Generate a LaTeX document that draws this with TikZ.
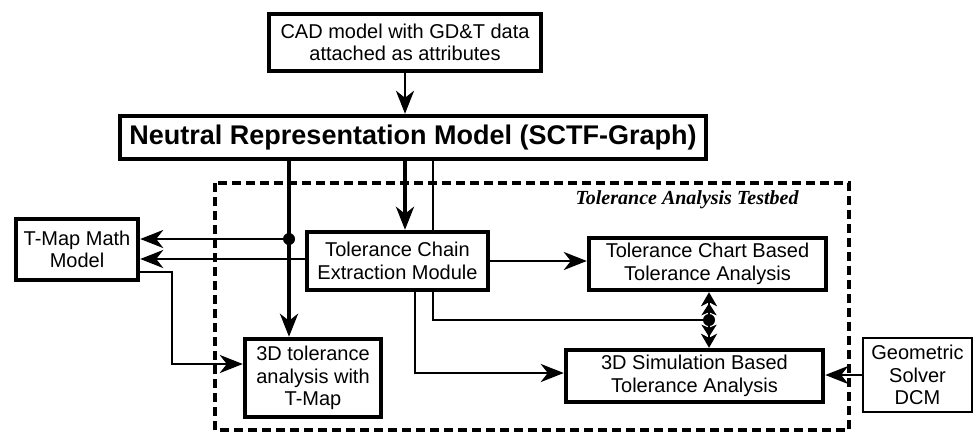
\documentclass[tikz,border=0pt]{standalone}
\usepackage{fontspec}
\setmainfont{Liberation Sans}
\newfontfamily\labelserif{Liberation Serif}
\usetikzlibrary{arrows.meta,backgrounds}

\tikzset{
  tip/.tip={Stealth[length=23pt,width=18pt,inset=7pt]},
  twin/.tip={Stealth[length=12pt,width=15pt,inset=3pt,sep=-3pt]Stealth[length=14pt,width=16pt,inset=4pt]},
  box/.style={draw, line width=4.4pt, fill=white, align=center, inner sep=0pt,
              font=\fontsize{20}{22.5}\selectfont},
  thinbox/.style={box, line width=2.4pt},
  conn/.style={line width=2.8pt, -tip},
  heavyconn/.style={conn, line width=3.8pt},
  plainconn/.style={line width=2.8pt},
  junction/.style={circle, fill=black, inner sep=0pt, minimum size=12pt},
  frame/.style={line width=3.4pt, dash pattern=on 9pt off 5pt},
}

\begin{document}
\begin{tikzpicture}[x=1pt, y=-1pt]
\useasboundingbox (0,0) rectangle (976,434);

% testbed frame and its caption
\draw[frame] (215,183) rectangle (849,430);
\node (caption) at (687,200) {\labelserif\bfseries\itshape\fontsize{20}{22}\selectfont Tolerance Analysis Testbed};

% blocks
\node[box, minimum width=272pt, minimum height=57pt] (cad) at (405,42.5)
  {CAD model with GD\&T data\\attached as attributes};
\node[box, minimum width=586pt, minimum height=43pt,
      font=\bfseries\fontsize{27}{30}\selectfont] (nrm) at (413,137.5)
  {Neutral Representation Model (SCTF-Graph)};
\node[box, minimum width=122pt, minimum height=61pt] (tmap) at (77,249.5)
  {T-Map Math\\Model};
\node[box, minimum width=181pt, minimum height=58pt] (tc) at (397.5,261)
  {Tolerance Chain\\Extraction Module};
\node[box, minimum width=237pt, minimum height=52pt] (chart) at (707.5,264)
  {Tolerance Chart Based\\Tolerance Analysis};
\node[box, minimum width=257pt, minimum height=52pt] (sim) at (694.5,376)
  {3D Simulation Based\\Tolerance Analysis};
\node[box, minimum width=136pt, minimum height=78pt] (t3d) at (313,378)
  {3D tolerance\\analysis with\\T-Map};
\node[thinbox, minimum width=109pt, minimum height=74pt] (geo) at (917.5,375)
  {Geometric\\Solver\\DCM};

% junctions and bend points
\node[junction] (j1) at (289,239) {};
\node[junction] (j2) at (709,320) {};
\coordinate (bendA) at (172,272);
\coordinate (bendB) at (172,364);
\coordinate (bendC) at (433,320);
\coordinate (bendD) at (415,373);

% line from the graph model running behind the chain extraction block
\begin{pgfonlayer}{background}
  \draw[plainconn] (nrm.south -| bendC) -- (bendC) -- (j2.center);
\end{pgfonlayer}

% connectors
\draw[conn] (cad.south) -- (nrm.north -| cad.south);
\draw[heavyconn] (nrm.south -| j1) -- (t3d.north -| j1);
\draw[conn] (j1.center) -- (tmap.east |- j1);
\draw[heavyconn] (nrm.south -| cad.south) -- (tc.north -| cad.south);
\draw[conn] ([yshift=2pt]tc.west) -- ([yshift=2pt]tc.west -| tmap.east);
\draw[conn] (tmap.east |- bendA) -- (bendA) -- (bendB) -- (t3d.west |- bendB);
\draw[conn] (tc.east) -- (chart.west |- tc.east);
\draw[conn] (tc.south -| bendD) -- (bendD) -- (sim.west |- bendD);
\draw[conn, -twin] (j2.center) -- (chart.south -| j2);
\draw[conn, -twin] (j2.center) -- (sim.north -| j2);
\draw[conn] (geo.west) -- (sim.east |- geo.west);
\end{tikzpicture}
\end{document}
